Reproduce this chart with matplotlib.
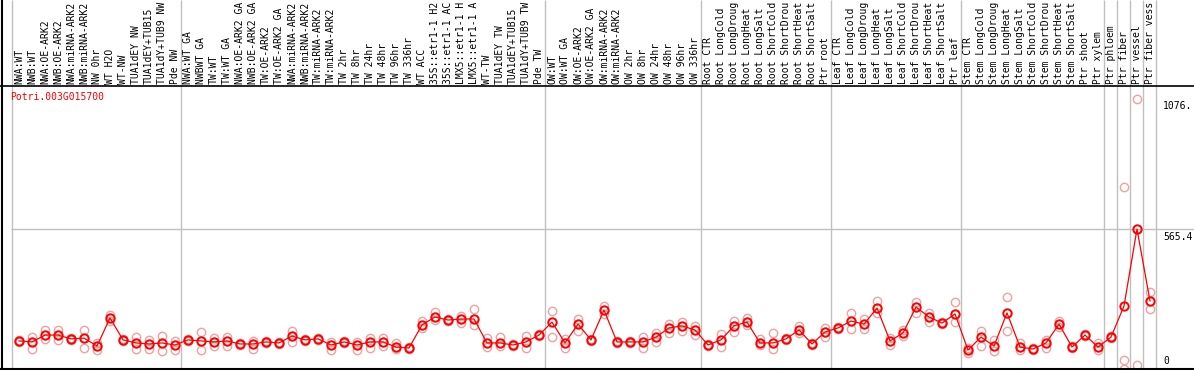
import matplotlib
matplotlib.use("Agg")
import matplotlib.pyplot as plt
from matplotlib.lines import Line2D
from matplotlib.transforms import blended_transform_factory

# --- DATA ---
gene = "Potri.003G015700"

samples = [
    "NWA:WT", "NWB:WT", "NWA:OE-ARK2", "NWB:OE-ARK2", "NWA:miRNA-ARK2", "NWB:miRNA-ARK2",
    "NW 0hr", "WT H2O", "WT-NW", "TUA1dEY NW", "TUA1dEY+TUB15", "TUA1dY+TUB9 NW", "Pde NW",
    "NWA:WT GA", "NWBWT GA", "TW:WT", "TW:WT GA", "NWA:OE-ARK2 GA", "NWB:OE-ARK2 GA",
    "TW:OE-ARK2", "TW:OE-ARK2 GA", "NWA:miRNA-ARK2", "NWB:miRNA-ARK2", "TW:miRNA-ARK2",
    "TW:miRNA-ARK2", "TW 2hr", "TW 8hr", "TW 24hr", "TW 48hr", "TW 96hr", "TW 336hr",
    "WT ACC", "35S::etr1-1 H2", "35S::etr1-1 AC", "LMX5::etr1-1 H", "LMX5::etr1-1 A",
    "WT-TW", "TUA1dEY TW", "TUA1dEY+TUB15", "TUA1dY+TUB9 TW", "Pde TW",
    "OW:WT", "OW:WT GA", "OW:OE-ARK2", "OW:OE-ARK2 GA", "OW:miRNA-ARK2", "OW:miRNA-ARK2",
    "OW 2hr", "OW 8hr", "OW 24hr", "OW 48hr", "OW 96hr", "OW 336hr",
    "Root CTR", "Root LongCold", "Root LongDroug", "Root LongHeat", "Root LongSalt",
    "Root ShortCold", "Root ShortDrou", "Root ShortHeat", "Root ShortSalt", "Ptr root",
    "Leaf CTR", "Leaf LongCold", "Leaf LongDroug", "Leaf LongHeat", "Leaf LongSalt",
    "Leaf ShortCold", "Leaf ShortDrou", "Leaf ShortHeat", "Leaf ShortSalt", "Ptr leaf",
    "Stem CTR", "Stem LongCold", "Stem LongDroug", "Stem LongHeat", "Stem LongSalt",
    "Stem ShortCold", "Stem ShortDrou", "Stem ShortHeat", "Stem ShortSalt",
    "Ptr shoot", "Ptr xylem", "Ptr phloem", "Ptr fiber", "Ptr vessel", "Ptr fiber vess",
]

means = [
    126, 122, 149, 149, 134, 137, 106, 216, 130, 118, 114, 118, 110,
    130, 126, 122, 126, 114, 114, 122, 118, 145, 130, 134, 110, 122, 110, 122, 122,
    102, 98, 189, 220, 208, 212, 212, 118, 118, 110, 122, 149,
    200, 118, 192, 130, 247, 122, 122, 122, 141, 177, 185, 169,
    110, 130, 185, 200, 118, 118, 134, 169, 114, 161,
    177, 204, 192, 255, 126, 157, 259, 220, 196, 232,
    90, 141, 106, 236, 102, 94, 118, 192, 102, 149, 102,
    141, 263, 565.4, 283,
]

replicates = [
    [122, 126, 130], [141, 122, 94], [169, 149, 134], [169, 149, 130], [130, 134, 138],
    [169, 137, 98], [118, 106, 90], [228, 216, 204], [126, 130, 134], [141, 118, 94],
    [130, 114, 94], [145, 118, 86], [126, 110, 90],
    [126, 130, 134], [161, 126, 90], [137, 122, 106], [141, 126, 106], [110, 114, 118],
    [126, 114, 94], [118, 122, 126], [114, 118, 122], [165, 145, 122], [126, 130, 134],
    [130, 134, 138], [122, 110, 90], [118, 122, 126], [122, 110, 90], [137, 122, 98],
    [137, 122, 106], [118, 102, 94], [94, 98, 102], [204, 189, 176], [240, 220, 208],
    [212, 208, 204], [224, 212, 196], [251, 212, 189], [137, 118, 102], [141, 118, 106],
    [106, 110, 114], [145, 122, 98], [145, 149, 153],
    [244, 200, 141], [134, 118, 98], [212, 192, 165], [126, 130, 134], [263, 247, 232],
    [118, 122, 126], [118, 122, 126], [98, 122, 140], [157, 141, 122], [192, 177, 157],
    [200, 185, 165], [185, 169, 149],
    [106, 110, 114], [153, 130, 102], [204, 185, 161], [216, 200, 189], [134, 118, 110],
    [157, 118, 94], [130, 134, 138], [185, 169, 157], [110, 114, 118], [177, 161, 141],
    [173, 177, 181], [236, 204, 173], [212, 192, 173], [283, 255, 236], [110, 126, 138],
    [169, 157, 145], [279, 259, 236], [236, 220, 200], [192, 196, 200], [279, 232, 200],
    [79, 90, 100], [165, 141, 106], [130, 106, 86], [299, 236, 165], [118, 102, 90],
    [90, 94, 98], [130, 118, 98], [204, 192, 181], [98, 102, 106], [145, 149, 153],
    [118, 102, 90],
    [137, 141, 145], [731, 51, 16], [1076.5, 31, 566], [318, 283, 251],
]

# index where each sample group begins (plus the end)
group_starts = [0, 13, 41, 53, 63, 73, 84, 85, 86, 87, 88]

# --- FIGURE ---
W, H = 1194, 370
fig = plt.figure(figsize=(W / 100, H / 100), dpi=100)
mono = "DejaVu Sans Mono"
fs = 7.0

ax = fig.add_axes([0, (H - 369) / H, 1, (369 - 86) / H])
ax.set_xlim(-19 / 13, (W - 19) / 13)
ax.set_ylim(15.7, 1127)
ax.axis("off")

x = list(range(len(samples)))

# replicate points (pale)
for i, reps in enumerate(replicates):
    ax.plot([i] * len(reps), reps, "o", ms=6.0, mfc="none", mec="#f0a0a0", mew=1.0,
            clip_on=False, zorder=2)

# mean line and points
ax.plot(x, means, "-", color="red", lw=0.9, zorder=3)
ax.plot(x, means, "o", ms=6.0, mfc="none", mec="red", mew=1.4, zorder=4)

# reference line at the highest mean
top_mean = max(means)
ax.hlines(top_mean, group_starts[0] - 0.65, ax.get_xlim()[1], color="#c0c0c0", lw=1, zorder=1)

# group separators, full height
sep_tr = blended_transform_factory(ax.transData, fig.transFigure)
seps = [g - 0.57 for g in group_starts]
ax.vlines(seps, 0, 1, transform=sep_tr, color="#c0c0c0", lw=1, clip_on=False, zorder=0)

# sample labels in the header
for i, name in enumerate(samples):
    ax.text(i, (H - 84) / H, name, transform=sep_tr, rotation=90, ha="center",
            va="bottom", fontsize=fs, family=mono, color="black", clip_on=False)

# frame lines
fig.add_artist(Line2D([0, 1], [(H - 85.5) / H] * 2, color="black", lw=1.2))
fig.add_artist(Line2D([0, 1], [(H - 368.5) / H] * 2, color="black", lw=1.5))
fig.add_artist(Line2D([1.5 / W] * 2, [0, 1], color="black", lw=1.5))

# gene name and scale labels
fig.text(10 / W, (H - 92) / H, gene, color="red", fontsize=fs, family=mono,
         ha="left", va="top")
label_tr = blended_transform_factory(fig.transFigure, ax.transData)
top_val = max(max(r) for r in replicates)
ax.text(1163 / W, top_val - 10, str(round(top_val, 1))[:5], transform=label_tr,
        fontsize=fs, family=mono, ha="left", va="top", clip_on=False)
ax.text(1163 / W, top_mean - 10, str(round(top_mean, 1))[:5], transform=label_tr,
        fontsize=fs, family=mono, ha="left", va="top", clip_on=False)
fig.text(1163 / W, (H - 366) / H, "0", fontsize=fs, family=mono, ha="left", va="bottom")

fig.savefig("out.png", dpi=100)
